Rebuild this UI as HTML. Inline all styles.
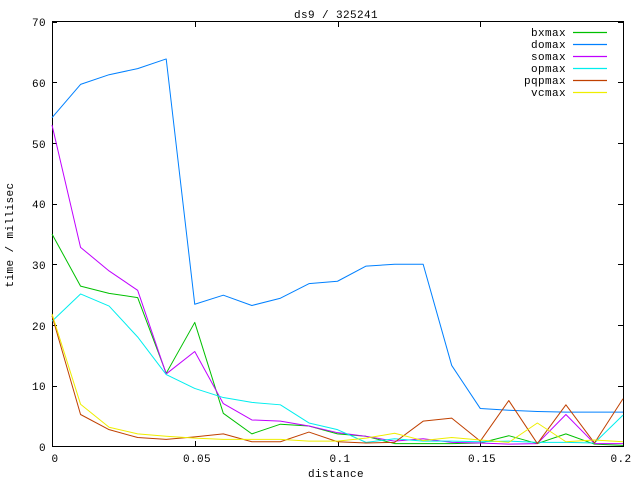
<!DOCTYPE html>
<html><head><meta charset="utf-8"><style>
html,body{margin:0;padding:0;background:#fff}
svg{display:block}
text{font-family:"Liberation Mono","DejaVu Sans Mono",monospace;font-size:11px;fill:#000;letter-spacing:0.4px}
</style></head><body>
<svg width="640" height="480" viewBox="0 0 640 480" xmlns="http://www.w3.org/2000/svg">
<rect x="0" y="0" width="640" height="480" fill="#fff"/>
<g stroke="#000" stroke-width="1" fill="none" shape-rendering="crispEdges">
<rect x="52.5" y="21.5" width="571" height="425"/>
<path d="M52 386.5h5M623 386.5h-5M52 325.5h5M623 325.5h-5M52 264.5h5M623 264.5h-5M52 204.5h5M623 204.5h-5M52 143.5h5M623 143.5h-5M52 82.5h5M623 82.5h-5M52 22.5h5M623 22.5h-5"/>
<path d="M195.5 446v-5M195.5 22v5M338.5 446v-5M338.5 22v5M480.5 446v-5M480.5 22v5"/>
</g>
<g text-anchor="end">
<text x="46" y="451">0</text><text x="46" y="390">10</text><text x="46" y="330">20</text><text x="46" y="269">30</text><text x="46" y="208">40</text><text x="46" y="148">50</text><text x="46" y="87">60</text><text x="46" y="26">70</text>
</g>
<g text-anchor="middle">
<text x="55" y="462">0</text><text x="197" y="462">0.05</text><text x="340" y="462">0.1</text><text x="482" y="462">0.15</text><text x="621" y="462">0.2</text>
<text x="336" y="477">distance</text>
<text x="336" y="18">ds9 / 325241</text>
<text transform="translate(13,235) rotate(-90)">time / millisec</text>
</g>
<g text-anchor="end">
<text x="566" y="36">bxmax</text><text x="566" y="48">domax</text><text x="566" y="60">somax</text><text x="566" y="72">opmax</text><text x="566" y="84">pqpmax</text><text x="566" y="96">vcmax</text>
</g>
<g stroke-width="1.2" fill="none">
<path d="M573 32.5h34" stroke="#00c000"/><path d="M573 44.5h34" stroke="#0080ff"/><path d="M573 56.5h34" stroke="#c000ff"/><path d="M573 68.5h34" stroke="#00eeee"/><path d="M573 80.5h34" stroke="#c04000"/><path d="M573 92.5h34" stroke="#eeee00"/>
</g>
<g transform="translate(52,446) scale(28.55,-6.057)" fill="none" stroke-width="1" stroke-linejoin="round">
<polyline vector-effect="non-scaling-stroke" stroke="#00c000" points="0,35 1,26.4 2,25.2 3,24.5 4,12 5,20.4 6,5.4 7,2 8,3.6 9,3.3 10,2 11,1.6 12,0.4 13,0.4 14,0.4 15,0.5 16,1.7 17,0.4 18,2 19,0.3 20,0.1"/>
<polyline vector-effect="non-scaling-stroke" stroke="#0080ff" points="0,54.2 1,59.7 2,61.3 3,62.3 4,63.9 5,23.4 6,24.9 7,23.2 8,24.4 9,26.8 10,27.2 11,29.7 12,30 13,30 14,13.3 15,6.2 16,5.9 17,5.7 18,5.6 19,5.6 20,5.6"/>
<polyline vector-effect="non-scaling-stroke" stroke="#c000ff" points="0,53 1,32.8 2,28.9 3,25.7 4,11.9 5,15.6 6,7 7,4.3 8,4.1 9,3.3 10,2.2 11,1.6 12,0.8 13,1.2 14,0.6 15,0.5 16,0.3 17,0.4 18,5.2 19,0.4 20,0.4"/>
<polyline vector-effect="non-scaling-stroke" stroke="#00eeee" points="0,20.6 1,25.1 2,23.1 3,18 4,11.8 5,9.5 6,8 7,7.2 8,6.8 9,3.8 10,2.7 11,0.6 12,1.2 13,0.8 14,0.8 15,0.7 16,0.8 17,0.6 18,0.6 19,0.5 20,5.1"/>
<polyline vector-effect="non-scaling-stroke" stroke="#c04000" points="0,21.5 1,5.2 2,2.7 3,1.4 4,1.1 5,1.5 6,2 7,0.7 8,0.7 9,2.3 10,0.7 11,0.5 12,0.6 13,4.1 14,4.6 15,0.8 16,7.5 17,0.4 18,6.8 19,0.5 20,7.8"/>
<polyline vector-effect="non-scaling-stroke" stroke="#eeee00" points="0,21.8 1,6.9 2,3.1 3,2 4,1.6 5,1.3 6,1.1 7,1.1 8,1.1 9,0.8 10,0.8 11,1.3 12,2.1 13,0.9 14,1.4 15,1 16,0.6 17,3.8 18,0.7 19,1 20,0.7"/>
</g>
</svg>
</body></html>
